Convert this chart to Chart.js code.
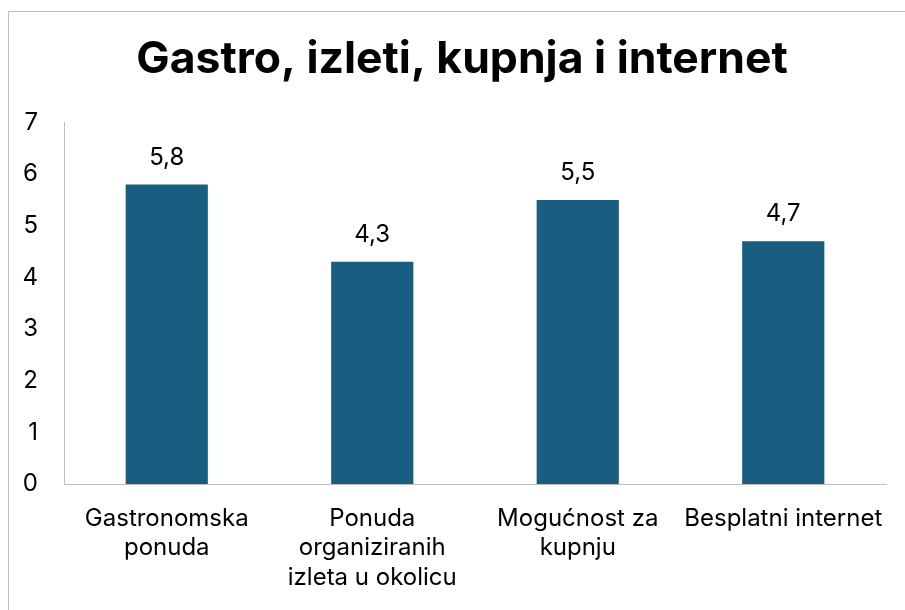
<!DOCTYPE html>
<html>
<head>
<meta charset="utf-8">
<script src="https://cdn.jsdelivr.net/npm/chart.js@4"></script>
<style>
  html, body { margin: 0; padding: 0; background: #fff; overflow: hidden; }
  #frame { position: absolute; left: 8px; top: 11px; width: 1000px; height: 1000px; border: 1px solid #bfbfbf; box-sizing: border-box; }
  #wrap { position: absolute; left: 0; top: 0; width: 905px; height: 610px; }
</style>
</head>
<body>
<div id="frame"></div>
<div id="wrap"><canvas id="c" width="905" height="610"></canvas></div>
<script>
const titleText = "Gastro, izleti, kupnja i internet";
const categories = [
  ["Gastronomska", "ponuda"],
  ["Ponuda", "organiziranih", "izleta u okolicu"],
  ["Mogućnost za", "kupnju"],
  ["Besplatni internet"]
];
const values = [5.8, 4.3, 5.5, 4.7];
const yTicks = [0, 1, 2, 3, 4, 5, 6, 7];

const FONT = "Inter, 'Liberation Sans', sans-serif";

const valueLabels = {
  id: 'valueLabels',
  afterDatasetsDraw(chart) {
    const ctx = chart.ctx;
    const meta = chart.getDatasetMeta(0);
    ctx.save();
    ctx.font = "24px " + FONT;
    ctx.fillStyle = "#000";
    ctx.textAlign = "center";
    ctx.textBaseline = "middle";
    meta.data.forEach((bar, i) => {
      const v = chart.data.datasets[0].data[i];
      ctx.fillText(v.toFixed(1).replace('.', ','), bar.x, bar.y - 27);
    });
    ctx.restore();
  }
};

// shift the title box so it is centred like the reference (centre of the frame)
const titleShift = {
  id: 'titleShift',
  afterLayout(chart) {
    if (chart.titleBlock) { chart.titleBlock.left = 38; }
  }
};

new Chart(document.getElementById('c'), {
  type: 'bar',
  data: {
    labels: categories,
    datasets: [{
      data: values,
      backgroundColor: '#195e80',
      barPercentage: 0.4,
      categoryPercentage: 1.0
    }]
  },
  options: {
    responsive: false,
    animation: false,
    layout: { padding: { left: 8, right: 19, top: 0, bottom: 0 } },
    plugins: {
      legend: { display: false },
      tooltip: { enabled: false },
      title: {
        display: true,
        text: titleText,
        color: '#000',
        font: { family: FONT, size: 44.5, weight: 'bold', lineHeight: 1.2 },
        padding: { top: 33, bottom: 36 }
      }
    },
    scales: {
      x: {
        afterFit(scale) { scale.height = 126; },
        grid: { display: false, drawTicks: false },
        border: { display: true, color: '#bfbfbf', width: 1 },
        ticks: {
          color: '#000',
          font: { family: FONT, size: 24, lineHeight: 1.23 },
          padding: 20,
          maxRotation: 0,
          autoSkip: false
        }
      },
      y: {
        min: 0,
        max: 7,
        afterFit(scale) { scale.width = 56; },
        afterBuildTicks(scale) { scale.ticks = yTicks.map(v => ({ value: v })); },
        grid: { display: false, drawTicks: false },
        border: { display: true, color: '#bfbfbf', width: 1 },
        ticks: {
          color: '#000',
          font: { family: FONT, size: 24 },
          padding: 26
        }
      }
    }
  },
  plugins: [valueLabels, titleShift]
});
</script>
</body>
</html>
